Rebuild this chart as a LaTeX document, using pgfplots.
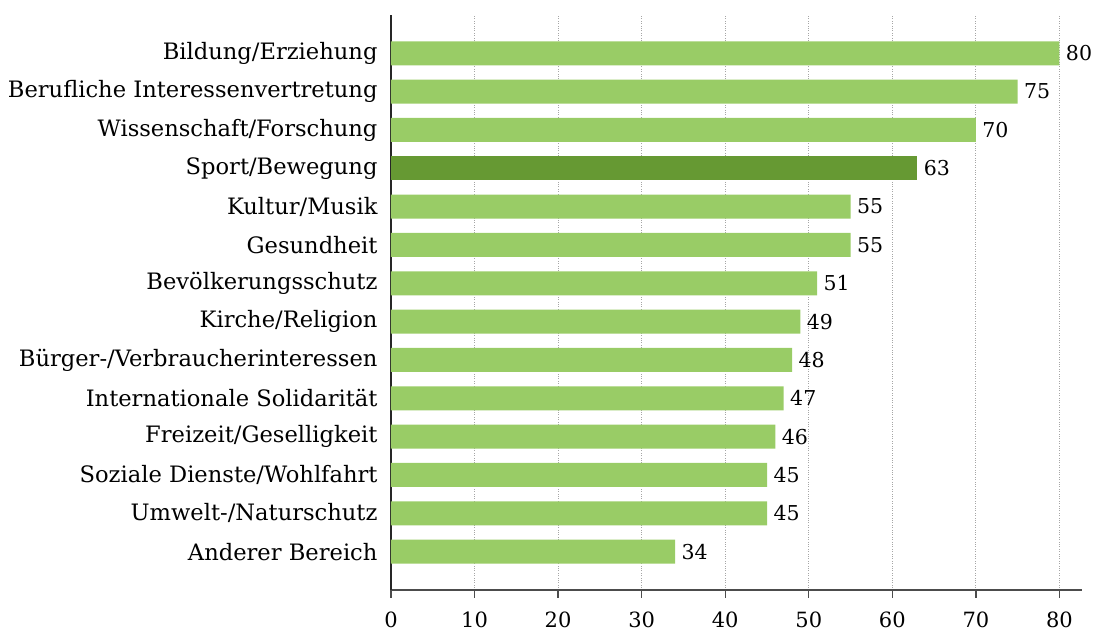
\documentclass[border=0pt]{standalone}
\usepackage{pgfplots}
\pgfplotsset{compat=1.18}
\usepackage{fontspec}
\setmainfont{DejaVu Serif}
\definecolor{lg}{HTML}{99CC66}
\definecolor{dg}{HTML}{669933}
\begin{document}
\begin{tikzpicture}[x=1pt,y=1pt]
\useasboundingbox (-391,-41) rectangle (703,590);
\begin{axis}[
  at={(0,0)}, anchor=south west,
  scale only axis, width=691pt, height=575pt,
  xmin=0, xmax=82.7, ymin=-1, ymax=14,
  axis x line*=bottom, axis y line*=left,
  x axis line style={draw=black!70, line width=1.3pt, -},
  y axis line style={draw=black!85, line width=1.3pt, -},
  xtick={0,10,...,80},
  ytick={0,...,13},
  yticklabels={Anderer Bereich, Umwelt-/Naturschutz, Soziale Dienste/Wohlfahrt, Freizeit/Geselligkeit, Internationale Solidarität, Bürger-/Verbraucherinteressen, Kirche/Religion, Bevölkerungsschutz, Gesundheit, Kultur/Musik, Sport/Bewegung, Wissenschaft/Forschung, Berufliche Interessenvertretung, Bildung/Erziehung},
  tick align=outside,
  major tick length=8pt,
  x tick style={draw=black!70, line width=1.3pt},
  y tick style={draw=none},
  xmajorgrids,
  major grid style={dotted, draw=black!35, line width=0.9pt},
  yticklabel style={font=\fontsize{22.6}{26}\selectfont, text=black, xshift=-2pt},
  xticklabel style={font=\fontsize{21}{24}\selectfont, text=black, inner sep=0pt, anchor=north, yshift=-14pt},
  /pgf/number format/assume math mode=true,
  xbar, bar width=24pt, bar shift=0pt,
  nodes near coords,
  nodes near coords align={horizontal},
  every node near coord/.append style={font=\fontsize{20.5}{24}\selectfont, text=black, xshift=3pt, /pgf/number format/assume math mode=true},
  clip=false,
]
\addplot[fill=lg, draw=none] coordinates {
(34,0) (45,1) (45,2) (46,3) (47,4) (48,5) (49,6) (51,7) (55,8) (55,9) (70,11) (75,12) (80,13)};
\addplot[fill=dg, draw=none] coordinates {(63,10)};
\end{axis}
\end{tikzpicture}
\end{document}
